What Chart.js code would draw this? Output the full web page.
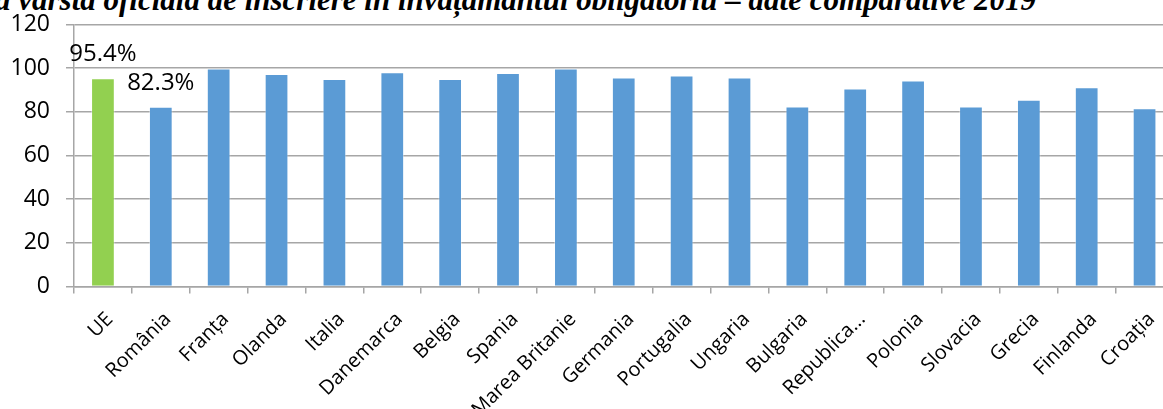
<!DOCTYPE html>
<html>
<head>
<meta charset="utf-8">
<script src="https://cdn.jsdelivr.net/npm/chart.js@4"></script>
<style>
  html, body { margin: 0; padding: 0; background: #fff; overflow: hidden; width: 1163px; height: 409px; }
  #wrap { position: relative; width: 1163px; height: 409px; overflow: hidden; }
  #title { position: absolute; left: -5px; top: -16px; white-space: nowrap;
    font: italic bold 31px "Liberation Serif", "Times New Roman", serif; line-height: 31px; color: #000; }
  #box { position: absolute; left: 0; top: 0; width: 1180px; height: 430px; }
</style>
</head>
<body>
<div id="wrap">
  <div id="title">a vârsta oficială de înscriere în învățământul obligatoriu – date comparative 2019</div>
  <div id="box"><canvas id="c" width="1180" height="430"></canvas></div>
</div>
<script>
const categories = ['UE', 'România', 'Franța', 'Olanda', 'Italia', 'Danemarca', 'Belgia', 'Spania',
  'Marea Britanie', 'Germania', 'Portugalia', 'Ungaria', 'Bulgaria', 'Republica...', 'Polonia',
  'Slovacia', 'Grecia', 'Finlanda', 'Croația'];
const values = [95.4, 82.3, 99.8, 97.3, 95.0, 98.1, 95.0, 97.8, 99.8, 95.7, 96.6, 95.7, 82.5,
  90.7, 94.4, 82.5, 85.5, 91.3, 81.7];
const yTicks = [0, 20, 40, 60, 80, 100, 120];
const labelledBars = [0, 1];

const GREEN = '#92D050', BLUE = '#5B9BD5', GRID = '#a6a6a6';
const FONT = '"Open Sans", "DejaVu Sans", sans-serif';
const CANVAS_H = 430, AXIS_Y = 286.6;

const barLabels = {
  id: 'barLabels',
  afterDatasetsDraw(chart) {
    const ctx = chart.ctx;
    const meta = chart.getDatasetMeta(0);
    ctx.save();
    ctx.font = '24px ' + FONT;
    ctx.fillStyle = '#000';
    ctx.textAlign = 'center';
    ctx.textBaseline = 'alphabetic';
    labelledBars.forEach(i => {
      const el = meta.data[i];
      ctx.fillText(values[i].toFixed(1) + '%', el.x, el.y - 17);
    });
    ctx.restore();
  }
};

new Chart(document.getElementById('c'), {
  type: 'bar',
  data: {
    labels: categories,
    datasets: [{
      data: values,
      backgroundColor: values.map((v, i) => i === 0 ? GREEN : BLUE),
      borderColor: 'rgba(255,255,255,0.4)',
      borderWidth: 1,
      barPercentage: 0.41,
      categoryPercentage: 1
    }]
  },
  options: {
    responsive: false,
    animation: false,
    devicePixelRatio: 1,
    layout: { padding: { top: 24.5, left: 0, right: 6.5, bottom: 0 } },
    plugins: { legend: { display: false }, tooltip: { enabled: false }, title: { display: false } },
    scales: {
      x: {
        grid: { drawOnChartArea: false, drawTicks: true, tickLength: 7, color: GRID, lineWidth: 1.5, offset: true },
        border: { color: GRID, width: 1.5 },
        ticks: { color: '#000', font: { family: FONT, size: 20 }, maxRotation: 45, minRotation: 45, padding: 14, labelOffset: 7, autoSkip: false },
        afterFit(scale) { scale.height = CANVAS_H - AXIS_Y; scale.paddingLeft = 0; scale.paddingRight = 0; }
      },
      y: {
        min: 0, max: 120,
        afterBuildTicks(scale) { scale.ticks = yTicks.map(v => ({ value: v })); },
        grid: { color: GRID, lineWidth: 1.5, tickLength: 8 },
        border: { color: GRID, width: 1.5 },
        ticks: { color: '#000', font: { family: FONT, size: 23 }, padding: 16 },
        afterFit(scale) { scale.width = 74; scale.paddingTop = 0; scale.paddingBottom = 0; }
      }
    }
  },
  plugins: [barLabels]
});
</script>
</body>
</html>
